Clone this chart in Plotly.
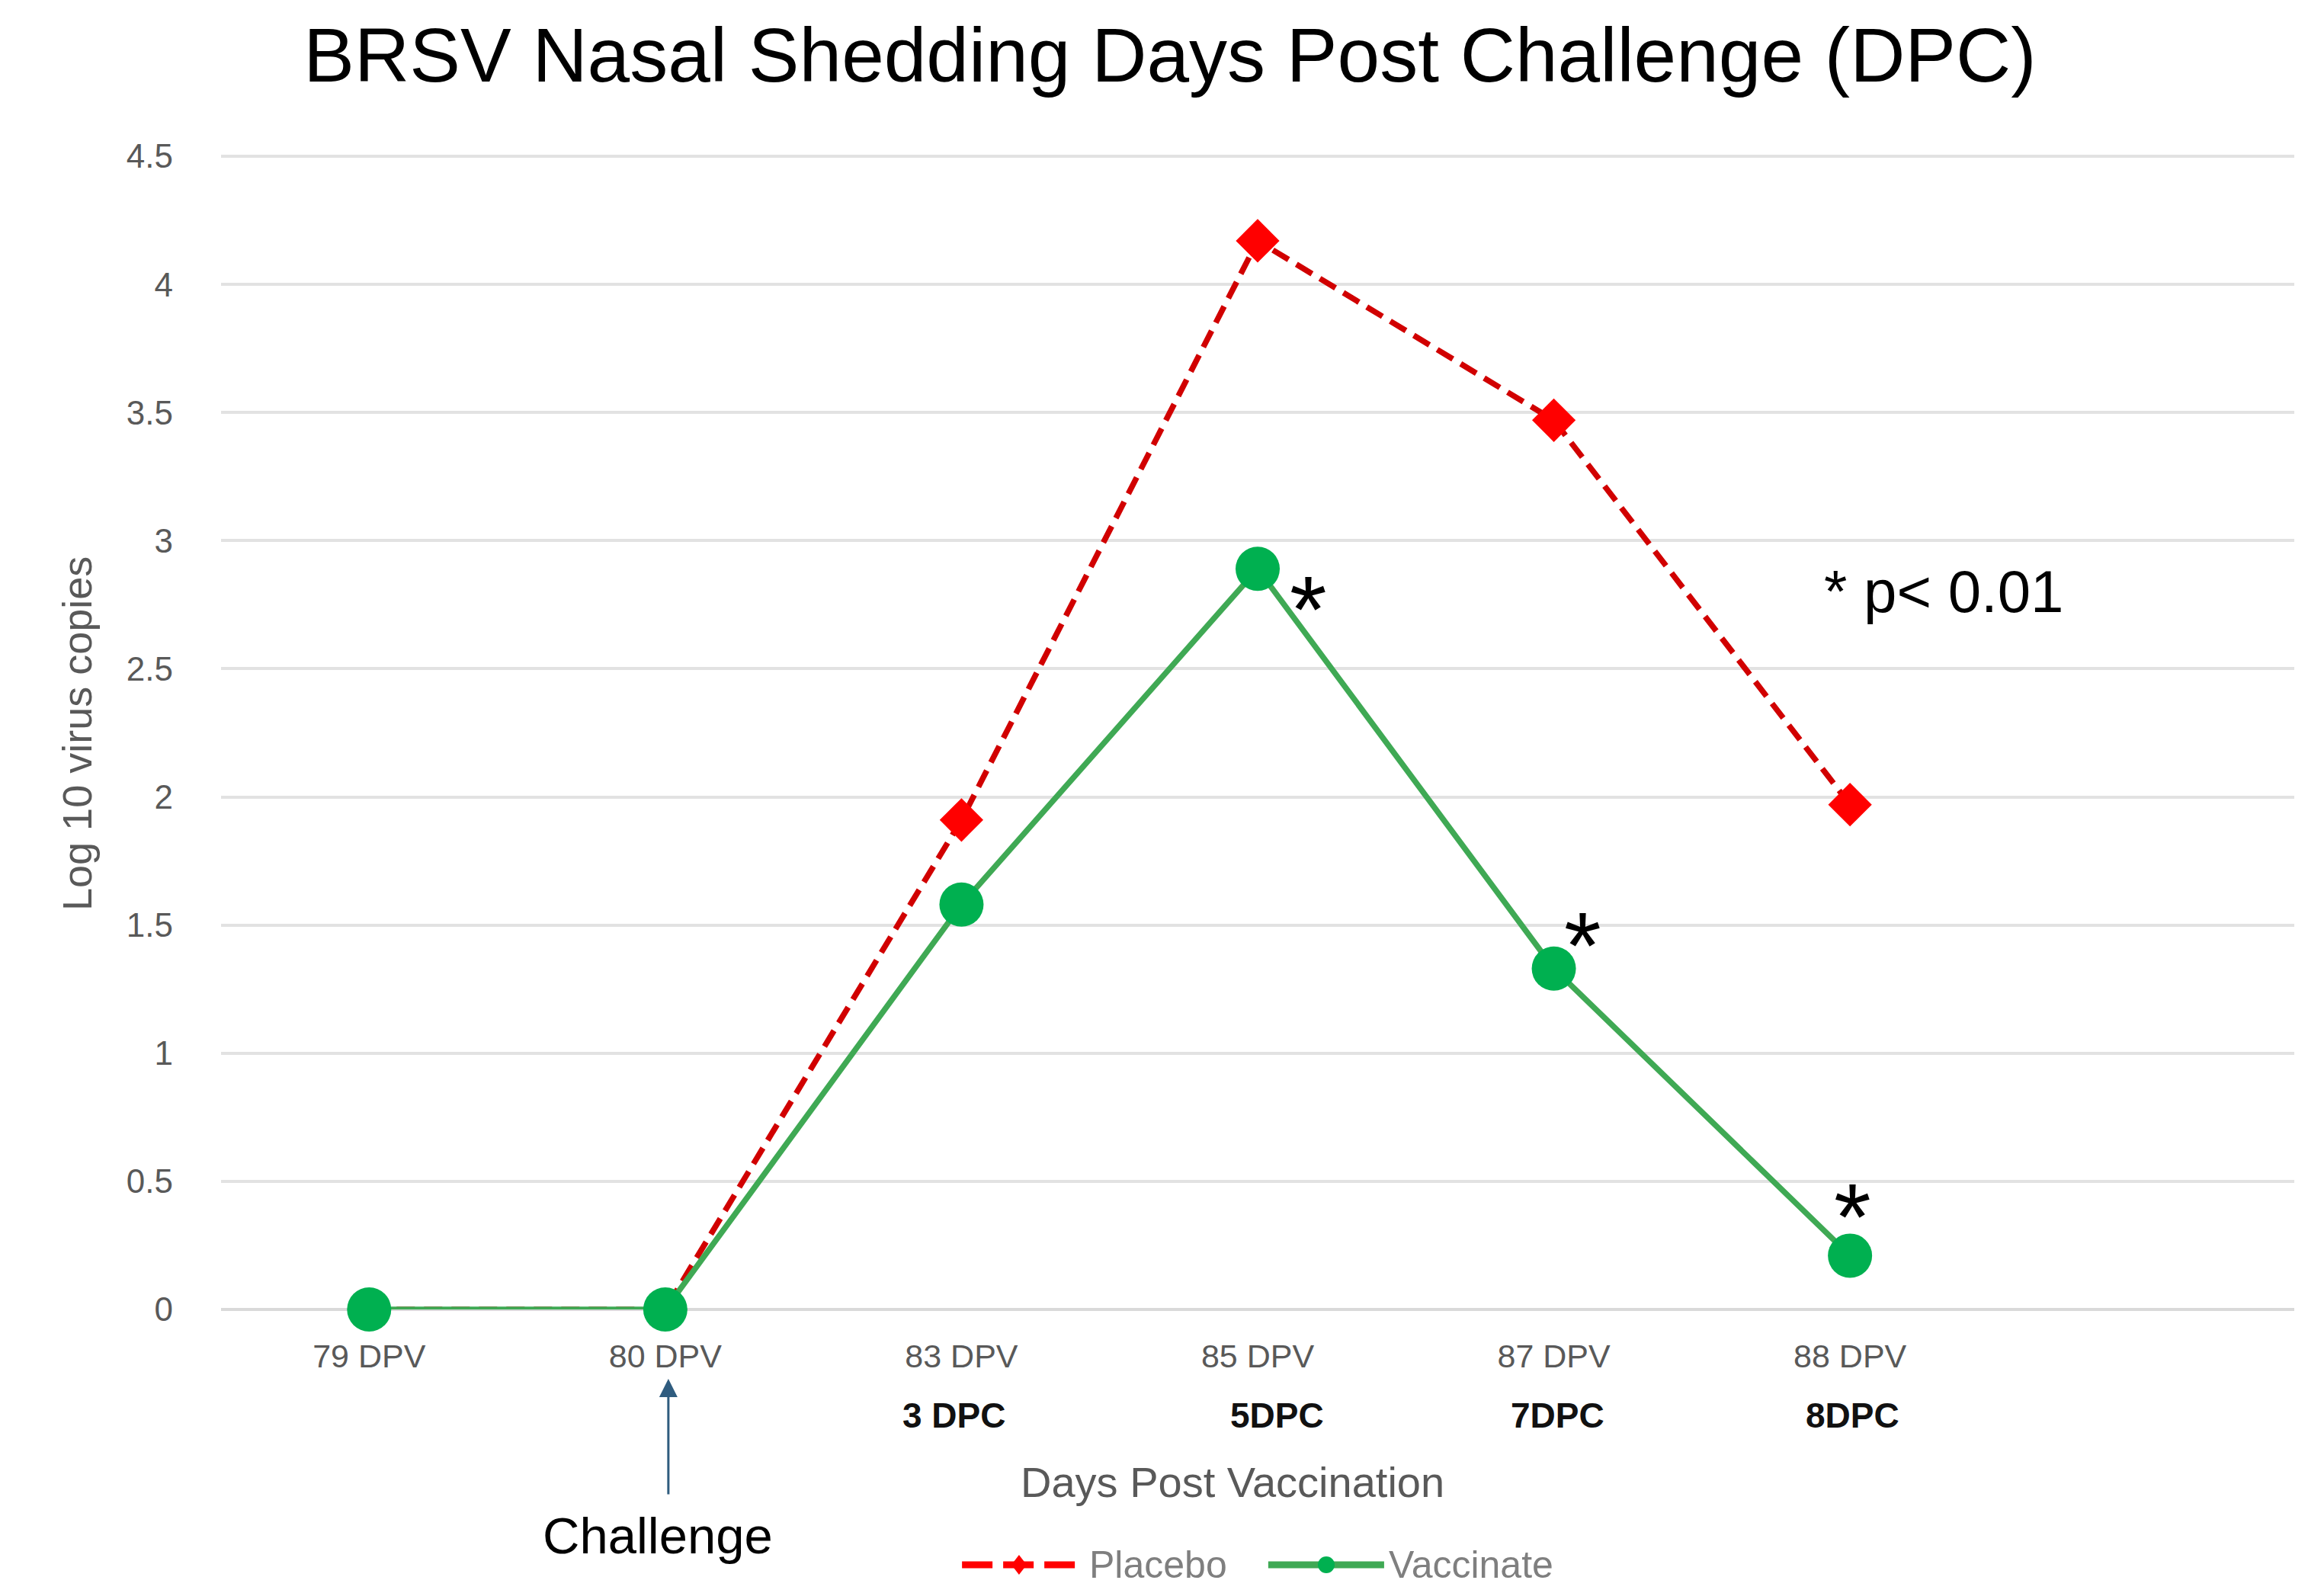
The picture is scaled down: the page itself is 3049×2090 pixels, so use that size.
import plotly.graph_objects as go

# ---- data ----
dpv_labels = ["79 DPV", "80 DPV", "83 DPV", "85 DPV", "87 DPV", "88 DPV"]
dpc_labels = ["", "", "3 DPC", "5DPC", "7DPC", "8DPC"]
placebo = [0, 0, 1.91, 4.17, 3.47, 1.97]
vaccinate = [0, 0, 1.58, 2.89, 1.33, 0.21]
signif_idx = [3, 4, 5]          # points marked with * (p < 0.01)

x_pos = list(range(len(dpv_labels)))
FONT = "Liberation Sans, Arial, sans-serif"
RED_LINE = "#D10000"
RED_MARK = "#FF0000"
GREEN_LINE = "#3FA954"
GREEN_MARK = "#00B050"

fig = go.Figure()
fig.add_trace(go.Scatter(
    x=x_pos, y=placebo, name="Placebo", mode="lines+markers",
    line=dict(color=RED_LINE, width=7.5, dash="24px,12px"),
    marker=dict(symbol="diamond", size=44, color=RED_MARK),
    cliponaxis=False, showlegend=False))
fig.add_trace(go.Scatter(
    x=x_pos, y=vaccinate, name="Vaccinate", mode="lines+markers",
    line=dict(color=GREEN_LINE, width=7.5),
    marker=dict(symbol="circle", size=58, color=GREEN_MARK),
    cliponaxis=False, showlegend=False))

annotations = []
# significance stars next to vaccinate points
star_shift = {3: (66, -53), 4: (38, 30), 5: (3, 51)}
for i in signif_idx:
    dx, dy = star_shift[i]
    annotations.append(dict(x=x_pos[i], y=vaccinate[i], xref="x", yref="y",
                            text="*", showarrow=False, xshift=dx, yshift=dy,
                            xanchor="center", yanchor="middle",
                            font=dict(family=FONT, size=125, color="black")))
# DPC second-row labels
dpc_shift = [0, 0, -10, 25, 5, 3]
for i, lab in enumerate(dpc_labels):
    if lab:
        annotations.append(dict(x=x_pos[i], y=0, xref="x", yref="paper",
                                text="<b>%s</b>" % lab, showarrow=False,
                                xshift=dpc_shift[i], yshift=-139,
                                xanchor="center", yanchor="middle",
                                font=dict(family=FONT, size=46, color="#111111")))
# p-value note
annotations.append(dict(x=0.8309, y=0.6218, xref="paper", yref="paper",
                        text="* p< 0.01", showarrow=False,
                        xanchor="center", yanchor="middle",
                        font=dict(family=FONT, size=78, color="black")))
# challenge arrow and label
annotations.append(dict(x=x_pos[1], y=-0.0601, xref="x", yref="paper",
                        xshift=4, text="", showarrow=True, ax=0, ay=153,
                        arrowcolor="#2F5C7F", arrowwidth=3, arrowhead=2,
                        arrowsize=1.6))
annotations.append(dict(x=x_pos[1], y=-0.1954, xref="x", yref="paper",
                        xshift=-10, text="Challenge", showarrow=False,
                        xanchor="center", yanchor="middle",
                        font=dict(family=FONT, size=67, color="black")))
# axis titles
annotations.append(dict(x=-0.0695, y=0.499, xref="paper", yref="paper",
                        text="Log 10 virus copies", textangle=-90,
                        showarrow=False, xanchor="center", yanchor="middle",
                        font=dict(family=FONT, size=54, color="#595959")))
annotations.append(dict(x=0.488, y=-0.1492, xref="paper", yref="paper",
                        text="Days Post Vaccination", showarrow=False,
                        xanchor="center", yanchor="middle",
                        font=dict(family=FONT, size=56, color="#595959")))

# custom legend (bottom centre)
leg_y = -0.2211
shapes = [
    dict(type="line", xref="paper", yref="paper", x0=0.3574, x1=0.4125,
         y0=leg_y, y1=leg_y, line=dict(color=RED_MARK, width=9, dash="40px,14px")),
    dict(type="path", xref="paper", yref="paper", xsizemode="pixel",
         ysizemode="pixel", xanchor=0.3849, yanchor=leg_y,
         path="M 0,13 L 10,0 L 0,-13 L -10,0 Z",
         fillcolor=RED_MARK, line=dict(width=0)),
    dict(type="line", xref="paper", yref="paper", x0=0.5051, x1=0.5610,
         y0=leg_y, y1=leg_y, line=dict(color=GREEN_LINE, width=9)),
    dict(type="circle", xref="paper", yref="paper", xsizemode="pixel",
         ysizemode="pixel", xanchor=0.5331, yanchor=leg_y,
         x0=-11, x1=11, y0=-11, y1=11,
         fillcolor=GREEN_MARK, line=dict(width=0)),
]
annotations.append(dict(x=0.418, y=leg_y, xref="paper", yref="paper",
                        text="Placebo", showarrow=False, xanchor="left",
                        yanchor="middle",
                        font=dict(family=FONT, size=50, color="#7F7F7F")))
annotations.append(dict(x=0.5625, y=leg_y, xref="paper", yref="paper",
                        text="Vaccinate", showarrow=False, xanchor="left",
                        yanchor="middle",
                        font=dict(family=FONT, size=50, color="#7F7F7F")))

fig.update_layout(
    width=3049, height=2090,
    margin=dict(l=282, r=47, t=195, b=380),
    paper_bgcolor="white", plot_bgcolor="white",
    title=dict(text="BRSV Nasal Shedding Days Post Challenge (DPC)",
               x=0.5008, xref="container", xanchor="center",
               y=0.9694, yanchor="middle",
               font=dict(family=FONT, size=100, color="black")),
    xaxis=dict(range=[-0.5, 6.5], tickmode="array", tickvals=x_pos,
               ticktext=dpv_labels, showgrid=False, zeroline=False,
               showline=False, ticks="", ticklabelstandoff=32,
               tickfont=dict(family=FONT, size=43, color="#595959")),
    yaxis=dict(range=[0, 4.506], dtick=0.5, tick0=0, showgrid=True,
               gridcolor="#E2E2E2", gridwidth=4, zeroline=True,
               zerolinecolor="#D9D9D9", zerolinewidth=4, showline=False,
               ticks="", ticklabelstandoff=62,
               tickfont=dict(family=FONT, size=44, color="#595959")),
    annotations=annotations, shapes=shapes,
    showlegend=False,
)

fig.write_html("out.html")
